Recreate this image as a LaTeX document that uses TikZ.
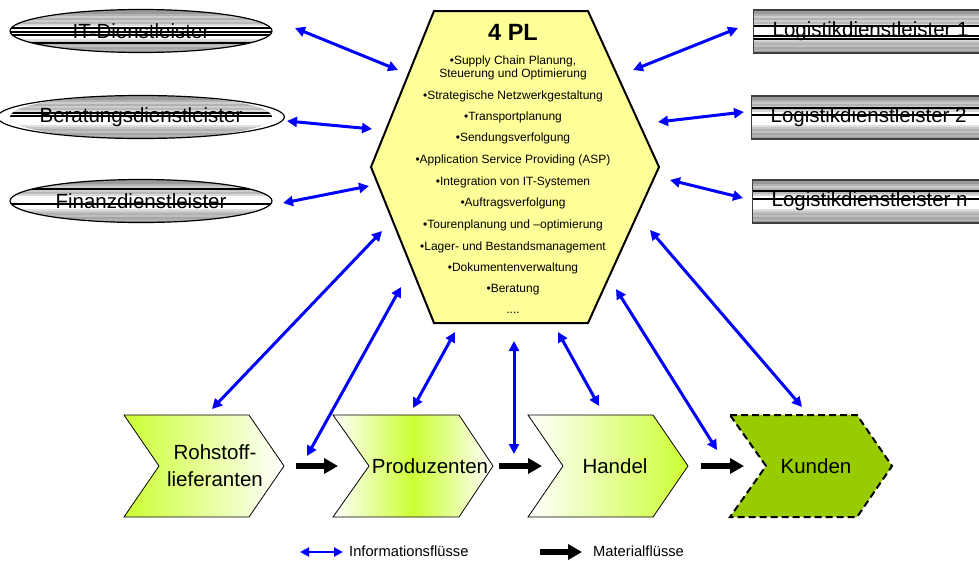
\documentclass[tikz,border=0pt]{standalone}
\usepackage{fontspec}
\setmainfont{Liberation Sans}
\usetikzlibrary{arrows.meta,shapes.geometric}

\definecolor{infoblue}{RGB}{0,0,255}
\definecolor{limegreen}{RGB}{204,255,51}
\definecolor{kundengreen}{RGB}{153,204,0}
\definecolor{hexyellow}{RGB}{255,255,153}

% horizontal grey banding used inside the service-provider shapes
% #1 left x, #2 top y, #3 width, #4 offsets of the dark lines from the top
\newcommand\bandfill[4]{%
  \fill[gray!80] (#1,#2) rectangle ++(#3,43);
  \foreach \o/\c in {4/60,6/40,8/60,10/40,12/55,14/30}{\fill[gray!\c] (#1,#2+\o) rectangle ++(#3,1.5);}
  \fill[white] (#1,#2+16) rectangle ++(#3,13);
  \foreach \o/\c in {29/25,31/45,33/60,35/50,37/70,39/60}{\fill[gray!\c] (#1,#2+\o) rectangle ++(#3,1.5);}
  \foreach \o in {#4}{\fill[black] (#1,#2+\o) rectangle ++(#3,1.8);}
}

\tikzset{
  x=1pt, y=-1pt,
  info/.style={draw=infoblue, line width=3pt,
    {Triangle[length=10pt,width=10pt]}-{Triangle[length=10pt,width=10pt]}},
  infosmall/.style={draw=infoblue, line width=2.5pt,
    {Triangle[length=9pt,width=9pt]}-{Triangle[length=9pt,width=9pt]}},
  material/.style={draw=black, line width=6pt, -{Triangle[length=14pt,width=15pt]}},
  biglabel/.style={font=\fontsize{20.5}{24}\selectfont, text=black, align=center},
  item/.style={font=\fontsize{12}{13}\selectfont, align=center, inner sep=0pt},
  legendtext/.style={font=\fontsize{14.7}{17}\selectfont, anchor=west, inner sep=0pt},
  svcell/.style={ellipse, draw=black, line width=1.2pt, minimum width=262,
    minimum height=43, inner sep=0pt, biglabel},
  svrect/.style={rectangle, draw=black!75, line width=1.2pt, minimum width=234,
    minimum height=43, inner sep=0pt, anchor=west, biglabel},
  chevline/.style={draw=black, line width=0.8pt, line join=miter},
}

\begin{document}
\begin{tikzpicture}
\path[use as bounding box] (0,0) rectangle (979,560);
\clip (0,0) rectangle (979,560);

% ---------- service providers (left) ----------
\begin{scope}
  \clip (141,31) ellipse [x radius=131, y radius=21.5];
  \bandfill{10}{10}{262}{17,21,24,32}
\end{scope}
\node[svcell] (itdl) at (141,31) {IT-Dienstleister};

\begin{scope}
  \clip (141,117) ellipse [x radius=131, y radius=21.5];
  \bandfill{10}{96}{262}{16,19}
\end{scope}
\node[svcell] (berat) at (141,117) {Beratungsdienstleister};

\begin{scope}
  \clip (141,201) ellipse [x radius=131, y radius=21.5];
  \bandfill{10}{180}{262}{8,23}
\end{scope}
\node[svcell] (finanz) at (141,201) {Finanzdienstleister};

% ---------- logistics providers (right) ----------
\bandfill{753}{10}{240}{15,25,28}
\node[svrect] (log1) at (753,31.5) {Logistikdienstleister 1};
\bandfill{751}{96}{240}{11,18}
\node[svrect] (log2) at (751,117.5) {Logistikdienstleister 2};
\bandfill{752}{180}{240}{10,18}
\node[svrect] (logn) at (752,201.5) {Logistikdienstleister n};

% ---------- 4PL hexagon ----------
\draw[fill=hexyellow, line width=2pt, line join=miter]
  (434,11) -- (588,11) -- (659,167) -- (588,323) -- (434,323) -- (371,167) -- cycle;
\node[font=\bfseries\fontsize{23.5}{26}\selectfont] (pl) at (513,32) {4 PL};
\node[item] (it1)  at (513,67.5) {•Supply Chain Planung,\\Steuerung und Optimierung};
\node[item] (it2)  at (513,96)  {•Strategische Netzwerkgestaltung};
\node[item] (it3)  at (513,117) {•Transportplanung};
\node[item] (it4)  at (513,138) {•Sendungsverfolgung};
\node[item] (it5)  at (513,160) {•Application Service Providing (ASP)};
\node[item] (it6)  at (513,182) {•Integration von IT-Systemen};
\node[item] (it7)  at (513,203) {•Auftragsverfolgung};
\node[item] (it8)  at (513,225) {•Tourenplanung und –optimierung};
\node[item] (it9)  at (513,247) {•Lager- und Bestandsmanagement};
\node[item] (it10) at (513,268) {•Dokumentenverwaltung};
\node[item] (it11) at (513,290) {•Beratung};
\node[item, anchor=base] (it12) at (513,313) {....};

% ---------- value chain ----------
\shade[left color=limegreen, right color=white]
  (124,415) -- (249,415) -- (284,466) -- (249,517) -- (124,517) -- (159,466) -- cycle;
\draw[chevline]
  (124,415) -- (249,415) -- (284,466) -- (249,517) -- (124,517) -- (159,466) -- cycle;
\node[biglabel, font=\fontsize{20.5}{27}\selectfont] (roh) at (215,466) {Rohstoff-\\lieferanten};

\shade[left color=white, right color=white, middle color=limegreen]
  (333,415) -- (459,415) -- (493,466) -- (459,517) -- (333,517) -- (369,466) -- cycle;
\draw[chevline]
  (333,415) -- (459,415) -- (493,466) -- (459,517) -- (333,517) -- (369,466) -- cycle;
\node[biglabel] (prod) at (430,466) {Produzenten};

\shade[left color=white, right color=limegreen]
  (528,415) -- (653,415) -- (688,466) -- (653,517) -- (528,517) -- (563,466) -- cycle;
\draw[chevline]
  (528,415) -- (653,415) -- (688,466) -- (653,517) -- (528,517) -- (563,466) -- cycle;
\node[biglabel] (handel) at (615,466) {Handel};

\draw[fill=kundengreen, line width=2pt, dash pattern=on 7pt off 4pt, line join=miter]
  (730,415) -- (857,415) -- (892,466) -- (857,517) -- (730,517) -- (766,466) -- cycle;
\node[biglabel] (kunden) at (816,466) {Kunden};

% ---------- material flows ----------
\coordinate (m1s) at (296,466); \coordinate (m1e) at (338,466);
\coordinate (m2s) at (499,466); \coordinate (m2e) at (542,466);
\coordinate (m3s) at (701,466); \coordinate (m3e) at (744,466);
\draw[material] (m1s) -- (m1e);
\draw[material] (m2s) -- (m2e);
\draw[material] (m3s) -- (m3e);

% ---------- information flows ----------
\foreach \n/\ax/\ay/\bx/\by in {
  1/295/28/398/70, 2/287/121/372/129, 3/283/203/369/186,
  4/738/28/633/70, 5/744/112/658/122, 6/670/180/743/198,
  7/382/231/212/409, 8/401/287/307/456, 9/455/332/413/408,
  10/514/341/514/454, 11/558/332/599/406, 12/650/230/802/407,
  13/616/289/717/450}{
  \coordinate (is\n) at (\ax,\ay);
  \coordinate (ie\n) at (\bx,\by);
  \draw[info] (is\n) -- (ie\n);
}

% ---------- legend ----------
\coordinate (lgis) at (300,552); \coordinate (lgie) at (343,552);
\draw[infosmall] (lgis) -- (lgie);
\node[legendtext] (lginfo) at (349,551) {Informationsflüsse};
\coordinate (lgms) at (540,552); \coordinate (lgme) at (582,552);
\draw[material] (lgms) -- (lgme);
\node[legendtext] (lgmat) at (593,551) {Materialflüsse};
\end{tikzpicture}
\end{document}
